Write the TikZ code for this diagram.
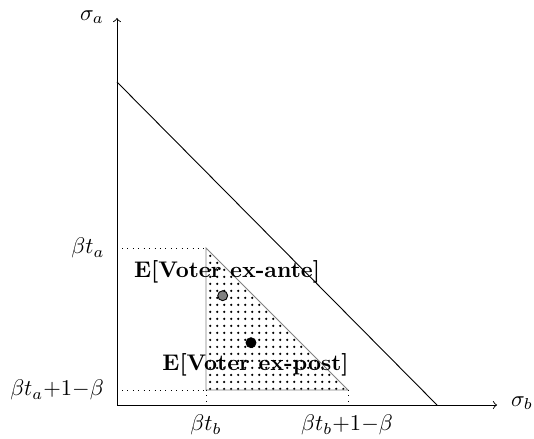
\documentclass[tikz,border=0pt]{standalone}
\usetikzlibrary{patterns}
\pgfdeclarepatternformonly{bigdots}{\pgfqpoint{-1pt}{-1pt}}{\pgfqpoint{1pt}{1pt}}{\pgfqpoint{3.1pt}{3.1pt}}{%
  \pgfpathcircle{\pgfqpoint{0pt}{0pt}}{0.55pt}\pgfusepath{fill}}
\begin{document}
\begin{tikzpicture}[x=0.4425pt,y=-0.4425pt,
  guide/.style={dotted},
  tri/.style={draw=gray},
  pt/.style={circle,draw=black,inner sep=0pt,minimum size=4.4pt},
  lab/.style={inner sep=1pt},
  blab/.style={inner sep=1pt,font=\bfseries}]
\useasboundingbox (0,0) rectangle (534,438);
% axes
\coordinate (O) at (117,405);
\coordinate (Y) at (117,18);
\coordinate (X) at (497,405);
\draw[->] (O) -- (Y);
\draw[->] (O) -- (X);
\node[lab] (sa) at (92,17) {$\sigma_a$};
\node[lab] (sb) at (522,403) {$\sigma_b$};
% budget line
\coordinate (A) at (117,82);
\coordinate (B) at (437,405);
\draw (A) -- (B);
% triangle
\coordinate (T1) at (206,248);
\coordinate (T2) at (206,390);
\coordinate (T3) at (348,390);
\fill[pattern=bigdots] (T1) -- (T2) -- (T3) -- cycle;
\draw[tri] (T1) -- (T2) -- (T3) -- cycle;
% guides
\coordinate (G1) at (122,248);
\coordinate (G2) at (122,390);
\coordinate (G3) at (206,405);
\coordinate (G4) at (348,405);
\draw[guide] (G1) -- (T1);
\draw[guide] (G2) -- (T2);
\draw[guide] (T2) -- (G3);
\draw[guide] (T3) -- (G4);
% tick labels
\node[lab] (ta) at (88,248) {$\beta t_a$};
\node[lab] (ta1) at (57,390) {$\beta t_a{+}1{-}\beta$};
\node[lab] (tb) at (206,425) {$\beta t_b$};
\node[lab] (tb1) at (347,425) {$\beta t_b{+}1{-}\beta$};
% points
\node[pt,fill=gray] (ante) at (222.7,295.7) {};
\node[pt,fill=black] (post) at (251,342.7) {};
\node[blab] (lante) at (227,272) {E[Voter ex-ante]};
\node[blab] (lpost) at (255.5,365) {E[Voter ex-post]};
\end{tikzpicture}
\end{document}
